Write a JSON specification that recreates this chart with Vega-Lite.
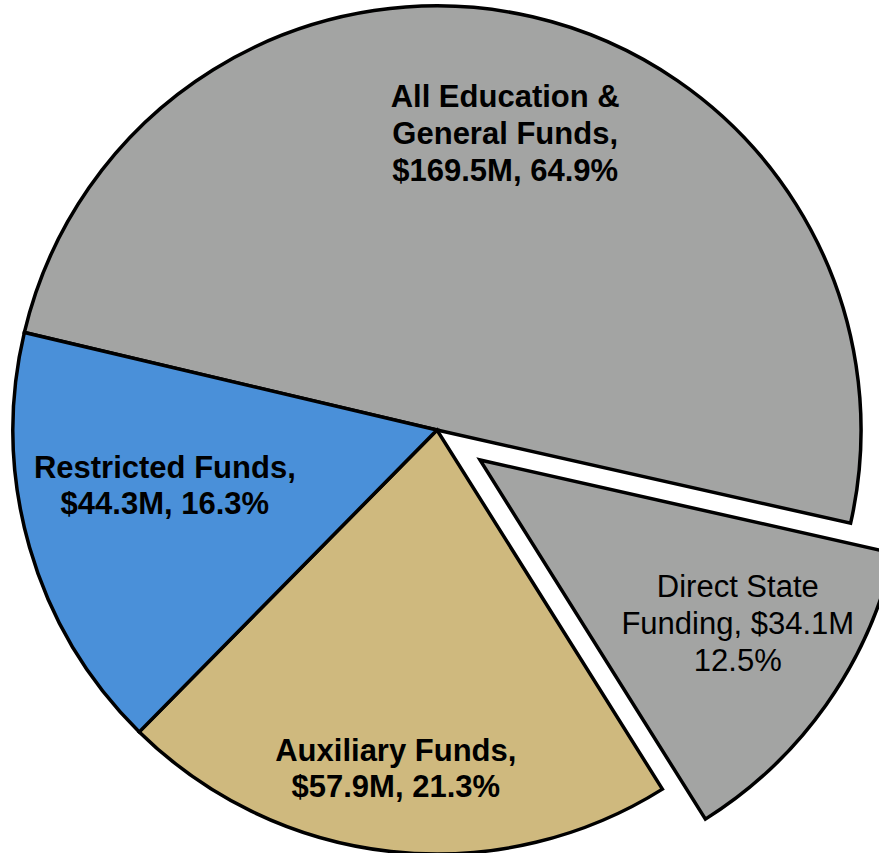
{
  "$schema": "https://vega.github.io/schema/vega-lite/v6.json",
  "width": 874,
  "height": 846,
  "autosize": "none",
  "padding": {"left": 0, "top": 7, "right": 5, "bottom": 0},
  "background": "white",
  "view": {"stroke": null},
  "data": {
    "values": [
      {"i": 1, "cat": "All Education & General Funds", "value": 135.4, "label": "All Education &\nGeneral Funds,\n$169.5M, 64.9%"},
      {"i": 2, "cat": "Direct State Funding", "value": 34.1, "label": "Direct State\nFunding, $34.1M\n12.5%"},
      {"i": 3, "cat": "Auxiliary Funds", "value": 57.9, "label": "Auxiliary Funds,\n$57.9M, 21.3%"},
      {"i": 4, "cat": "Restricted Funds", "value": 44.3, "label": "Restricted Funds,\n$44.3M, 16.3%"}
    ]
  },
  "encoding": {
    "theta": {"field": "value", "type": "quantitative", "stack": true, "scale": {"range": [4.9445, 11.2277]}},
    "order": {"field": "i", "type": "quantitative"}
  },
  "layer": [
    {
      "mark": {"type": "arc", "radius": 424, "stroke": "black", "strokeWidth": 3.5},
      "encoding": {
        "color": {"field": "cat", "type": "nominal", "legend": null,
          "scale": {"domain": ["All Education & General Funds", "Direct State Funding", "Auxiliary Funds", "Restricted Funds"],
                    "range": ["#a3a4a3", "#a3a4a3", "#cfb97e", "#4a90d9"]}},
        "opacity": {"condition": {"test": "datum.cat === 'Direct State Funding'", "value": 0}, "value": 1}
      }
    },
    {
      "mark": {"type": "arc", "radius": 424, "stroke": "black", "strokeWidth": 3.5, "xOffset": 43, "yOffset": 30},
      "encoding": {
        "color": {"field": "cat", "type": "nominal", "legend": null},
        "opacity": {"condition": {"test": "datum.cat === 'Direct State Funding'", "value": 1}, "value": 0}
      }
    },
    {
      "mark": {"type": "text", "radius": 303, "dy": -37, "font": "Liberation Sans", "fontSize": 31, "fontWeight": "bold", "lineBreak": "\n", "lineHeight": 37, "color": "black", "align": "center", "baseline": "middle"},
      "encoding": {"text": {"condition": {"test": "datum.cat === 'All Education & General Funds'", "field": "label"}, "value": ""}}
    },
    {
      "mark": {"type": "text", "radius": 278, "dx": -5, "dy": -38, "font": "Liberation Sans", "fontSize": 31, "fontWeight": "bold", "lineBreak": "\n", "lineHeight": 36, "color": "black", "align": "center", "baseline": "middle"},
      "encoding": {"text": {"condition": {"test": "datum.cat === 'Restricted Funds'", "field": "label"}, "value": ""}}
    },
    {
      "mark": {"type": "text", "radius": 342, "dx": -4, "dy": -18, "font": "Liberation Sans", "fontSize": 31, "fontWeight": "bold", "lineBreak": "\n", "lineHeight": 36, "color": "black", "align": "center", "baseline": "middle"},
      "encoding": {"text": {"condition": {"test": "datum.cat === 'Auxiliary Funds'", "field": "label"}, "value": ""}}
    },
    {
      "mark": {"type": "text", "radius": 306, "dx": 51, "dy": -19, "font": "Liberation Sans", "fontSize": 31, "fontWeight": "normal", "lineBreak": "\n", "lineHeight": 37, "color": "black", "align": "center", "baseline": "middle"},
      "encoding": {"text": {"condition": {"test": "datum.cat === 'Direct State Funding'", "field": "label"}, "value": ""}}
    }
  ]
}
